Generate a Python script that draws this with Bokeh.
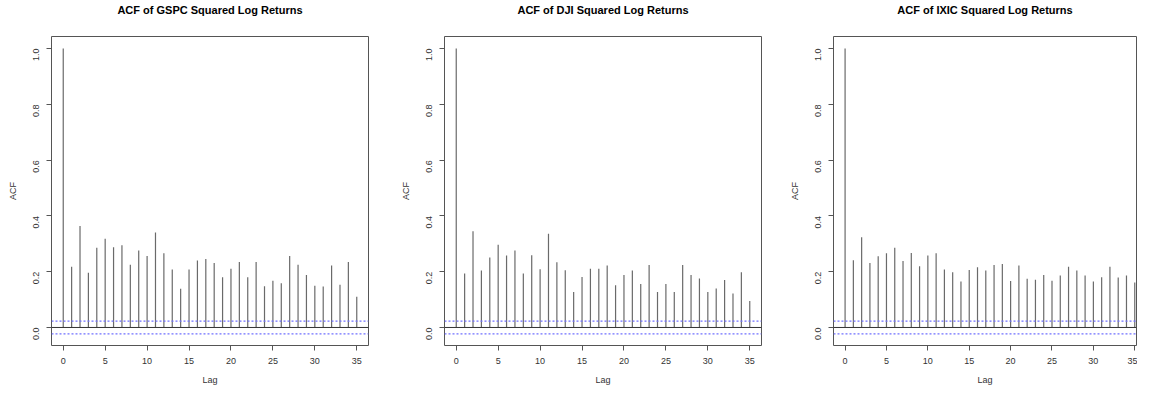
from bokeh.plotting import figure
from bokeh.layouts import row
from bokeh.models import Range1d, FixedTicker, Span, Title
from bokeh.embed import file_html
from bokeh.resources import INLINE
import math

lags = list(range(36))
titles = ["ACF of GSPC Squared Log Returns",
          "ACF of DJI Squared Log Returns",
          "ACF of IXIC Squared Log Returns"]

acf_gspc = [1.0, 0.218, 0.364, 0.196, 0.286, 0.318, 0.288, 0.295, 0.225, 0.276,
            0.256, 0.341, 0.266, 0.208, 0.139, 0.208, 0.240, 0.246, 0.231, 0.180,
            0.211, 0.235, 0.180, 0.235, 0.148, 0.168, 0.159, 0.256, 0.225, 0.188,
            0.150, 0.147, 0.222, 0.153, 0.235, 0.110]
acf_dji = [1.0, 0.194, 0.345, 0.204, 0.251, 0.297, 0.258, 0.276, 0.194, 0.259,
           0.209, 0.336, 0.234, 0.205, 0.127, 0.181, 0.211, 0.211, 0.222, 0.151,
           0.188, 0.204, 0.156, 0.224, 0.127, 0.156, 0.127, 0.224, 0.188, 0.176,
           0.127, 0.140, 0.170, 0.122, 0.198, 0.095]
acf_ixic = [1.0, 0.241, 0.324, 0.231, 0.255, 0.266, 0.286, 0.238, 0.267, 0.220,
            0.258, 0.266, 0.208, 0.198, 0.165, 0.206, 0.216, 0.204, 0.224, 0.228,
            0.167, 0.222, 0.175, 0.171, 0.188, 0.168, 0.186, 0.218, 0.204, 0.186,
            0.165, 0.180, 0.218, 0.179, 0.186, 0.161]
conf_band = 0.023

series = [acf_gspc, acf_dji, acf_ixic]
fig_widths = [393, 393, 351]
left_borders = [51, 51, 43]
frame_widths = [317, 317, 307]
x_ends = [36.4, 36.4, 35.21]
HEIGHT = 387
TOP = 36
BOTTOM = 41

FONT = "Liberation Sans"
figs = []
for i, (vals, title) in enumerate(zip(series, titles)):
    w = fig_widths[i]
    right_border = w - left_borders[i] - frame_widths[i]
    p = figure(width=w, height=HEIGHT, output_backend="svg", toolbar_location=None,
               x_range=Range1d(-1.4, x_ends[i]), y_range=Range1d(-0.0646, 1.0434),
               min_border_left=left_borders[i], min_border_right=right_border,
               min_border_top=TOP, min_border_bottom=BOTTOM,
               title=title)
    # spacer between the frame and the title
    p.add_layout(Title(text=" ", text_font_size="1px", standoff=17), "above")
    p.title.align = "center"
    p.title.vertical_align = "middle"
    p.title.standoff = 0
    p.title.text_font = FONT
    p.title.text_font_size = "11px"
    p.title.text_font_style = "bold"
    p.title.text_color = "#000000"
    p.grid.visible = False
    p.outline_line_color = "#555555"
    p.outline_line_width = 1
    p.background_fill_color = "white"
    p.border_fill_color = "white"

    xa = p.xaxis[0]
    xa.ticker = FixedTicker(ticks=[0, 5, 10, 15, 20, 25, 30, 35])
    xa.axis_label = "Lag"
    ya = p.yaxis[0]
    ya.ticker = FixedTicker(ticks=[0.0, 0.2, 0.4, 0.6, 0.8, 1.0])
    ya.axis_label = "ACF"
    ya.major_label_overrides = {0.0: "0.0", 0.2: "0.2", 0.4: "0.4", 0.6: "0.6", 0.8: "0.8", 1.0: "1.0"}
    ya.major_label_orientation = math.pi / 2
    for ax in (xa, ya):
        ax.axis_line_color = None
        ax.major_tick_in = 0
        ax.major_tick_out = 5
        ax.major_tick_line_color = "#555555"
        ax.minor_tick_line_color = None
        ax.major_label_text_font = FONT
        ax.major_label_text_font_size = "9px"
        ax.major_label_text_color = "#333333"
        ax.axis_label_text_font = FONT
        ax.axis_label_text_font_size = "9px"
        ax.axis_label_text_font_style = "normal"
        ax.axis_label_text_color = "#333333"
    xa.major_label_standoff = 7
    xa.axis_label_standoff = 8
    ya.major_label_standoff = 10
    ya.axis_label_standoff = 10

    p.segment(x0=lags, y0=[0] * len(lags), x1=lags, y1=vals,
              line_color="#6a6a6a", line_width=1.2)
    p.add_layout(Span(location=0, dimension="width", line_color="#333333", line_width=1))
    p.add_layout(Span(location=conf_band, dimension="width", line_color="#7070ff",
                      line_width=1.2, line_dash="2 2"))
    p.add_layout(Span(location=-conf_band, dimension="width", line_color="#7070ff",
                      line_width=1.2, line_dash="2 2"))
    figs.append(p)

layout = row(*figs, spacing=0)
open("out.html", "w").write(file_html(layout, INLINE))
